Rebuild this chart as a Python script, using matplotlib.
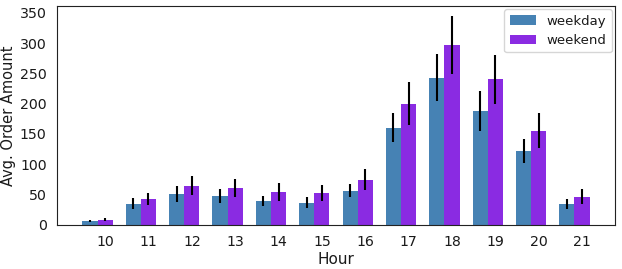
import numpy as np
import matplotlib
matplotlib.use('Agg')
import matplotlib.pyplot as plt
from matplotlib.ticker import MultipleLocator
import seaborn as sns

sns.set_style('white')
plt.rcParams['font.family'] = ['DejaVu Sans']

hours = [10, 11, 12, 13, 14, 15, 16, 17, 18, 19, 20, 21]
weekday_avg = [6, 34, 51, 47, 39, 36, 56, 160, 243, 188, 122, 34]
weekday_err = [2, 9, 13, 12, 8, 9, 11, 24, 39, 33, 20, 8]
weekend_avg = [7.5, 42, 64, 60, 54, 52, 74, 200, 296, 240, 155, 46]
weekend_err = [2.5, 10, 16, 15, 15, 13, 17, 36, 48, 40, 29, 12]

width = 0.35
x = np.array(hours)

fig = plt.figure(figsize=(6.22, 2.69), dpi=100)
ax = fig.add_axes([57 / 622, 1 - 224.5 / 269, 558 / 622, 218.5 / 269])

ax.bar(x, weekday_avg, width, yerr=weekday_err, color='steelblue',
       edgecolor='none', label='weekday',
       error_kw=dict(elinewidth=1.5, ecolor='k'))
ax.bar(x + width, weekend_avg, width, yerr=weekend_err, color='blueviolet',
       edgecolor='none', label='weekend',
       error_kw=dict(elinewidth=1.5, ecolor='k'))

ax.set_xticks(x + width)
ax.set_xticklabels(hours)
ax.yaxis.set_major_locator(MultipleLocator(50))
ax.tick_params(labelsize=10.2, colors='#1a1a1a', pad=4)
ax.set_xlabel('Hour', fontsize=11, color='#1a1a1a', labelpad=2.5)
ax.set_ylabel('Avg. Order Amount', fontsize=10.5, color='#1a1a1a', labelpad=3)
for s in ax.spines.values():
    s.set_color('#222222')
leg = ax.legend(loc='upper right', fontsize=9.5, borderaxespad=0.25)
for t in leg.get_texts():
    t.set_color('#1a1a1a')

plt.savefig('out.png', dpi=100)
